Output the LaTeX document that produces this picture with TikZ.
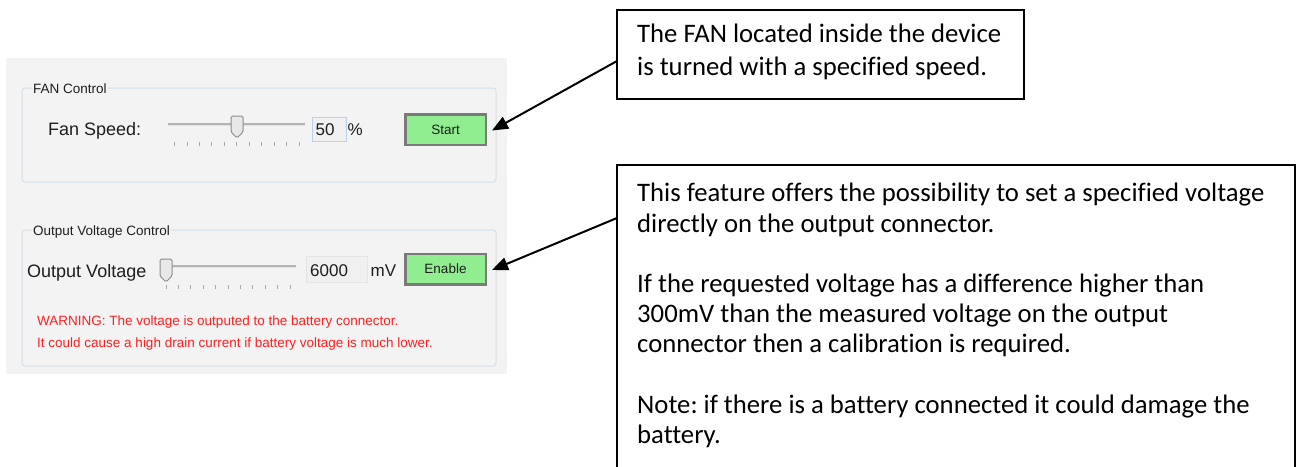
\documentclass[tikz,border=0pt]{standalone}
\usepackage{fontspec}
\setmainfont{Liberation Sans}
\newfontfamily\callfont[Ligatures=NoCommon]{Carlito}
\usetikzlibrary{arrows.meta}
\definecolor{panelbg}{HTML}{F3F3F3}
\definecolor{grpline}{HTML}{D5DFE5}
\definecolor{btnfill}{HTML}{90EE90}
\definecolor{btnline}{HTML}{7A7A7A}
\definecolor{warnred}{HTML}{FF2020}
\definecolor{trackc}{HTML}{B4B4B4}
\definecolor{tracklo}{HTML}{E2E2E2}
\definecolor{tickc}{HTML}{A8A8A8}
\definecolor{thumbline}{HTML}{8C8C8C}
\definecolor{thumbfill}{HTML}{E8E8E8}
\definecolor{tbline}{HTML}{B9D1EA}
\definecolor{tbfill}{HTML}{F0F0F0}
\definecolor{guitext}{HTML}{1E1E1E}
\frenchspacing
\begin{document}
\begin{tikzpicture}[x=1pt,y=-1pt,
  grouplbl/.style={font=\fontsize{13.5}{15}\selectfont, inner sep=1pt, fill=panelbg, anchor=base west, text=guitext},
  bigl/.style={font=\fontsize{18}{20}\selectfont, inner sep=0pt, anchor=base west, text=guitext},
  midl/.style={font=\fontsize{17}{19}\selectfont, inner sep=0pt, anchor=base west, text=guitext},
  btn/.style={draw=btnline, line width=2.5pt, fill=btnfill, minimum width=80.5pt, minimum height=30.5pt, inner sep=0pt, font=\fontsize{13.5}{15}\selectfont, text=guitext},
  grp/.style={draw=grpline, line width=1pt, rounded corners=3pt},
  track/.style={draw=trackc, line width=1.2pt},
  tick/.style={draw=tickc, line width=0.9pt},
  thumb/.style={draw=thumbline, line width=1pt, fill=thumbfill, rounded corners=1.5pt},
  callbox/.style={draw=black, line width=1.8pt, fill=white, inner sep=0pt, anchor=north west},
  calltext/.style={inner sep=0pt, anchor=north west, align=left},
  warn/.style={font=\fontsize{13.5}{15}\selectfont, inner sep=0pt, anchor=base west, text=warnred},
  arrowline/.style={line width=2pt, -{Triangle[length=16pt,width=13pt]}}
]
\useasboundingbox (0,0) rectangle (1297,466);
\clip (0,0) rectangle (1297,466);
\fill[white] (0,0) rectangle (1297,466);

% panel
\fill[panelbg] (6,58) rectangle (507,374);

% FAN control group
\draw[grp] (22,88) rectangle (496,182);
\node[grouplbl] (fanlbl) at (32,93) {FAN Control};
\node[bigl] (fanspeed) at (48,135) {Fan Speed:};
\draw[track] (168,124) -- (305,124);
\draw[draw=tracklo, line width=1pt] (168,125.5) -- (305,125.5);
\foreach \i in {0,...,10} { \draw[tick] (174.5+12.45*\i,141.5) -- (174.5+12.45*\i,145.5); }
\draw[thumb] (231,132) -- (231,116) -- (243,116) -- (243,132) -- (237,138) -- cycle;
\node[draw=tbline, fill=tbfill, line width=1pt, minimum width=34pt, minimum height=24pt, inner sep=0pt, anchor=north west] (fanbox) at (312,116.5) {};
\node[midl] (fanval) at (315.5,135) {50};
\node[midl] (fanpct) at (347.5,135) {\%};
\node[btn] (start) at (445.5,129.5) {Start};

% Output voltage group
\draw[grp] (22,230) rectangle (496,366);
\node[grouplbl] (outlbl) at (32,235.5) {Output Voltage Control};
\node[bigl, fill=panelbg, inner sep=1pt] (outvolt) at (26,277) {Output Voltage};
\draw[track] (162,266) -- (296,266);
\draw[draw=tracklo, line width=1pt] (162,267.5) -- (296,267.5);
\foreach \i in {0,...,10} { \draw[tick] (166+12.4*\i,285) -- (166+12.4*\i,289); }
\draw[thumb] (160,276) -- (160,259) -- (172,259) -- (172,276) -- (166,282) -- cycle;
\node[fill=tbfill, draw=tbfill!95!black, line width=0.6pt, minimum width=61pt, minimum height=26pt, inner sep=0pt, anchor=north west] (voltbox) at (306,256) {};
\node[midl] (voltval) at (310,276.5) {6000};
\node[midl] (voltunit) at (370.5,276.5) {mV};
\node[btn] (enable) at (445.5,269) {Enable};
\node[warn] (warn1) at (37,325) {WARNING: The voltage is outputed to the battery connector.};
\node[warn] (warn2) at (37,347) {It could cause a high drain current if battery voltage is much lower.};

% callout 1
\node[callbox, minimum width=407pt, minimum height=89pt] (c1) at (616,9) {};
\node[calltext, font=\callfont\fontsize{26.7}{33}\selectfont] (c1t) at (637,19)
  {\strut The FAN located inside the device\\is turned with a specified speed.};
\coordinate (c1p) at (617,61);
\draw[arrowline] (c1p) -- ([xshift=5pt,yshift=-1pt]start.east);

% callout 2
\node[callbox, minimum width=678pt, minimum height=330pt] (c2) at (616,164) {};
\node[calltext, font=\callfont\fontsize{26.7}{30.2}\selectfont] (c2t) at (637,180.5)
  {\strut This feature offers the possibility to set a specified voltage\\
   directly on the output connector.\\[30.2pt]
   If the requested voltage has a difference higher than\\
   300mV than the measured voltage on the output\\
   connector then a calibration is required.\\[30.2pt]
   Note: if there is a battery connected it could damage the\\
   battery.};
\coordinate (c2p) at (617,218);
\draw[arrowline] (c2p) -- ([xshift=5pt,yshift=-1pt]enable.east);
\end{tikzpicture}
\end{document}
